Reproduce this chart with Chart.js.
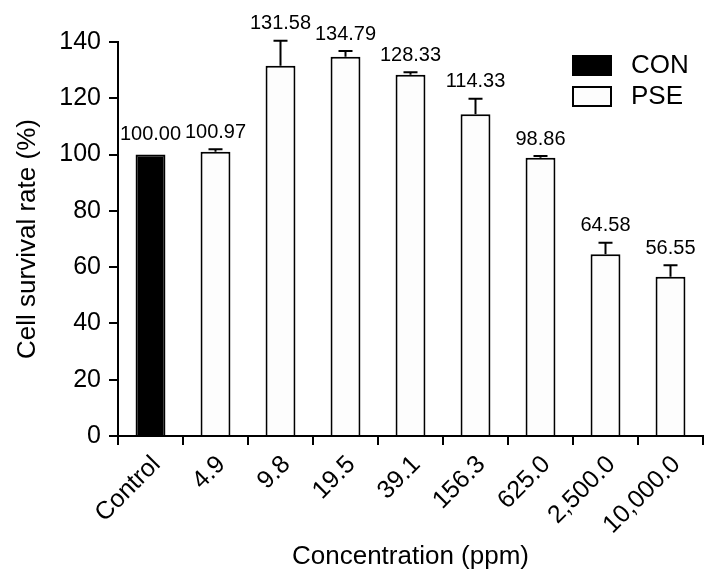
<!DOCTYPE html>
<html>
<head>
<meta charset="utf-8">
<script src="https://cdn.jsdelivr.net/npm/chart.js@4.4.0/dist/chart.umd.min.js"></script>
<style>
  html, body { margin: 0; padding: 0; background: #fff; }
  #wrap { width: 719px; height: 582px; }
</style>
</head>
<body>
<div id="wrap"><canvas id="myChart" width="719" height="582"></canvas></div>
<script>
var labels = ['Control', '4.9', '9.8', '19.5', '39.1', '156.3', '625.0', '2,500.0', '10,000.0'];
var conValues = [100.00, null, null, null, null, null, null, null, null];
var pseValues = [null, 100.97, 131.58, 134.79, 128.33, 114.33, 98.86, 64.58, 56.55];
var errors = [0, 0.9, 8.9, 2.0, 0.9, 5.5, 0.6, 4.1, 4.1];
var yTicks = [0, 20, 40, 60, 80, 100, 120, 140];

var fontName = "'Liberation Sans', Arial, sans-serif";

// error bars + numbers on top of bars
var barExtras = {
    id: 'barExtras',
    afterDatasetsDraw: function (chart) {
        var ctx = chart.ctx;
        var y = chart.scales.y;
        ctx.save();
        chart.data.datasets.forEach(function (ds, di) {
            var meta = chart.getDatasetMeta(di);
            meta.data.forEach(function (bar, i) {
                var v = ds.data[i];
                if (v == null) return;
                var top = y.getPixelForValue(v + errors[i]);
                var base = y.getPixelForValue(v);
                if (errors[i] > 0) {
                    ctx.strokeStyle = '#000';
                    ctx.lineWidth = 2;
                    ctx.beginPath();
                    ctx.moveTo(bar.x, base);
                    ctx.lineTo(bar.x, top);
                    ctx.moveTo(bar.x - 7, top);
                    ctx.lineTo(bar.x + 7, top);
                    ctx.stroke();
                }
                ctx.fillStyle = '#000';
                ctx.font = '20px ' + fontName;
                ctx.textAlign = 'center';
                ctx.textBaseline = 'bottom';
                ctx.fillText(v.toFixed(2), bar.x, top - (errors[i] > 0 ? 7 : 10));
            });
        });
        ctx.restore();
    }
};

// legend box in the upper right corner
var boxLegend = {
    id: 'boxLegend',
    afterDraw: function (chart) {
        var ctx = chart.ctx;
        ctx.save();
        ctx.font = '26px ' + fontName;
        ctx.textBaseline = 'middle';
        ctx.textAlign = 'left';
        chart.data.datasets.forEach(function (ds, i) {
            var bx = 573, by = 56 + i * 31;
            ctx.fillStyle = ds.backgroundColor;
            ctx.fillRect(bx, by, 38, 19);
            ctx.strokeStyle = '#000';
            ctx.lineWidth = 2;
            ctx.strokeRect(bx, by, 38, 19);
            ctx.fillStyle = '#000';
            ctx.fillText(ds.label, 631, by + 10);
        });
        ctx.restore();
    }
};

var ctx = document.getElementById('myChart');
var myChart = new Chart(ctx, {
    type: 'bar',
    data: {
        labels: labels,
        datasets: [{
            label: 'CON',
            data: conValues,
            backgroundColor: '#000000',
            borderColor: '#000000',
            borderWidth: 2,
            grouped: false,
            barPercentage: 0.46,
            categoryPercentage: 1
        }, {
            label: 'PSE',
            data: pseValues,
            backgroundColor: '#fdfdfd',
            borderColor: '#000000',
            borderWidth: 2,
            grouped: false,
            barPercentage: 0.46,
            categoryPercentage: 1
        }]
    },
    options: {
        responsive: false,
        animation: false,
        layout: { padding: { top: 42, right: 16, left: 0, bottom: 0 } },
        plugins: {
            legend: { display: false },
            tooltip: { enabled: false }
        },
        scales: {
            x: {
                afterFit: function (s) { s.height = 146; },
                grid: {
                    offset: true,
                    drawOnChartArea: false,
                    color: '#000',
                    lineWidth: 2,
                    tickLength: 9
                },
                border: { color: '#000', width: 2 },
                ticks: {
                    color: '#000',
                    font: { size: 25, family: fontName },
                    minRotation: 45,
                    maxRotation: 45,
                    padding: 5,
                    labelOffset: 6
                },
                title: {
                    display: true,
                    text: 'Concentration (ppm)',
                    color: '#000',
                    font: { size: 26, family: fontName },
                    padding: { top: 0, bottom: 10 }
                }
            },
            y: {
                min: 0,
                max: 140,
                afterFit: function (s) { s.width = 118; },
                afterBuildTicks: function (s) {
                    s.ticks = yTicks.map(function (v) { return { value: v }; });
                },
                grid: {
                    drawOnChartArea: false,
                    color: '#000',
                    lineWidth: 2,
                    tickLength: 9
                },
                border: { color: '#000', width: 2 },
                ticks: {
                    color: '#000',
                    font: { size: 25, family: fontName },
                    padding: 8
                },
                title: {
                    display: true,
                    text: 'Cell survival rate (%)',
                    color: '#000',
                    font: { size: 26, family: fontName },
                    padding: { top: 12, bottom: 6 }
                }
            }
        }
    },
    plugins: [barExtras, boxLegend]
});
</script>
</body>
</html>
